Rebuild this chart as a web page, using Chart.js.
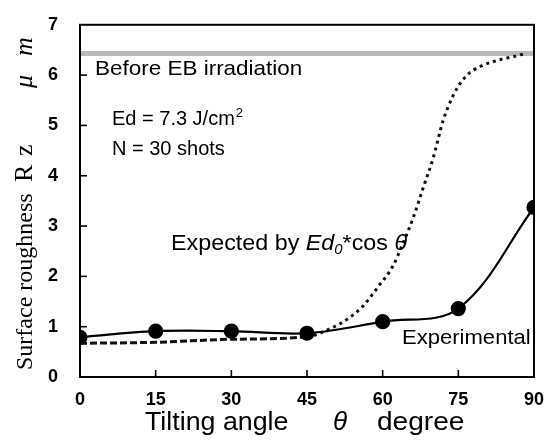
<!DOCTYPE html>
<html><head><meta charset="utf-8">
<script src="https://cdn.jsdelivr.net/npm/chart.js@4"></script>
<style>html,body{margin:0;padding:0;background:#fff;}#wrap{width:548px;height:443px;}</style>
</head><body><div id="wrap"><canvas id="c" width="548" height="443"></canvas></div>
<script>
// Data
const xTicks = [0, 15, 30, 45, 60, 75, 90];
const yTicks = [0, 1, 2, 3, 4, 5, 6, 7];
const expAngles = [0, 15, 30, 45, 60, 75, 90];
const experimental = [0.79, 0.91, 0.91, 0.87, 1.10, 1.36, 3.37];
const expectedAngles = [0, 15, 30, 45, 50, 53, 56, 59, 62, 64, 66, 68, 70, 72, 74, 76, 78, 80, 83, 86, 88];
const expectedValues = [0.67, 0.69, 0.75, 0.80, 0.98, 1.15, 1.40, 1.78, 2.20, 2.65, 3.15, 3.75, 4.35, 5.10, 5.60, 5.92, 6.10, 6.20, 6.30, 6.37, 6.42];
const beforeAngles = [0, 90];
const beforeValues = [6.43, 6.43];

const SANS = "'Liberation Sans', Arial, sans-serif";
const SERIF = "'Liberation Serif', 'Times New Roman', serif";

const pts = (xs, ys) => xs.map((x, i) => ({x, y: ys[i]}));

const decor = {
  id: 'decor',
  afterDatasetsDraw(chart) {
    const {ctx, chartArea: a, scales: {x, y}} = chart;
    ctx.save();
    ctx.strokeStyle = '#000';
    ctx.lineWidth = 2;
    ctx.strokeRect(a.left, a.top, a.right - a.left, a.bottom - a.top);
    ctx.lineWidth = 1.6;
    xTicks.forEach(v => {
      if (v === 0 || v === 90) return;
      const px = x.getPixelForValue(v);
      ctx.beginPath(); ctx.moveTo(px, a.bottom); ctx.lineTo(px, a.bottom - 7); ctx.stroke();
    });
    yTicks.forEach(v => {
      if (v === 0 || v === 7) return;
      const py = y.getPixelForValue(v);
      ctx.beginPath(); ctx.moveTo(a.left, py); ctx.lineTo(a.left + 7, py); ctx.stroke();
    });
    ctx.fillStyle = '#000';
    ctx.textBaseline = 'alphabetic';
    ctx.textAlign = 'left';
    // stretched text helper; returns advance width
    const txt = (t, px, py, font, sx) => {
      sx = sx || 1;
      ctx.save(); ctx.font = font; ctx.translate(px, py); ctx.scale(sx, 1); ctx.fillText(t, 0, 0);
      const w = ctx.measureText(t).width * sx; ctx.restore(); return w;
    };
    txt('Before EB irradiation', 95, 75, '21px ' + SANS, 1.07);
    let w = txt('Ed = 7.3 J/cm', 112, 125, '20px ' + SANS, 1.0);
    txt('2', 112 + w + 1, 117, '13px ' + SANS, 1.0);
    txt('N = 30 shots', 112, 155, '20px ' + SANS, 1.0);
    // expected label
    let cx = 171;
    const S = 1.06;
    cx += txt('Expected by ', cx, 250, '22px ' + SANS, S);
    cx += txt('Ed', cx, 250, 'italic 22px ' + SANS, S);
    cx += txt('0', cx, 254, 'italic 14px ' + SANS, S);
    cx += txt('*cos ', cx, 250, '22px ' + SANS, S);
    txt('\u03B8', cx, 250, 'italic 22px ' + SANS, S);
    txt('Experimental', 402, 344, '21px ' + SANS, 1.05);
    // x title
    txt('Tilting angle', 145, 430, '26px ' + SANS, 1.03);
    txt('\u03B8', 333, 430, 'italic 26px ' + SANS, 1.0);
    txt('degree', 377, 430, '26px ' + SANS, 1.08);
    // y title (rotated)
    const vt = (t, f, yStart) => {
      ctx.save(); ctx.translate(32, yStart); ctx.rotate(-Math.PI / 2);
      ctx.font = f; ctx.fillText(t, 0, 0); ctx.restore();
    };
    vt('Surface roughness', '24px ' + SERIF, 370);
    vt('R', '26px ' + SERIF, 182);
    vt('z', '26px ' + SERIF, 156);
    vt('\u03BC', 'italic 26px ' + SERIF, 88);
    vt('m', 'italic 26px ' + SERIF, 56);
    ctx.restore();
  }
};

new Chart(document.getElementById('c'), {
  type: 'line',
  data: {
    datasets: [
      { label: 'Before EB irradiation', data: pts(beforeAngles, beforeValues), borderColor: '#b8b8b8', borderWidth: 5, pointRadius: 0, order: 3 },
      { label: 'Expected', data: pts(expectedAngles, expectedValues), borderColor: '#111', borderWidth: 3, pointRadius: 0,
        cubicInterpolationMode: 'monotone',
        segment: { borderDash: c => c.p0.parsed.x >= 45 ? [3, 4] : [7, 3] }, order: 2 },
      { label: 'Experimental', data: pts(expAngles, experimental), borderColor: '#000', borderWidth: 2.2,
        tension: 0.35, pointRadius: 6.5, pointBackgroundColor: '#000', pointBorderColor: '#000', order: 1 }
    ]
  },
  options: {
    responsive: false, animation: false, devicePixelRatio: 1,
    layout: { padding: { top: 22, right: 9, left: 0, bottom: 0 } },
    plugins: { legend: { display: false }, tooltip: { enabled: false } },
    scales: {
      x: { type: 'linear', min: 0, max: 90,
        afterBuildTicks: s => { s.ticks = xTicks.map(v => ({value: v})); },
        afterFit: s => { s.height = 66; },
        grid: { display: false }, border: { display: false },
        ticks: { color: '#000', font: { family: SANS, size: 18, weight: 'bold' }, padding: 4, maxRotation: 0 } },
      y: { type: 'linear', min: 0, max: 7,
        afterBuildTicks: s => { s.ticks = yTicks.map(v => ({value: v})); },
        afterFit: s => { s.width = 80; },
        grid: { display: false }, border: { display: false },
        ticks: { color: '#000', font: { family: SANS, size: 18, weight: 'bold' }, padding: 14 } }
    }
  },
  plugins: [decor]
});
</script></body></html>
